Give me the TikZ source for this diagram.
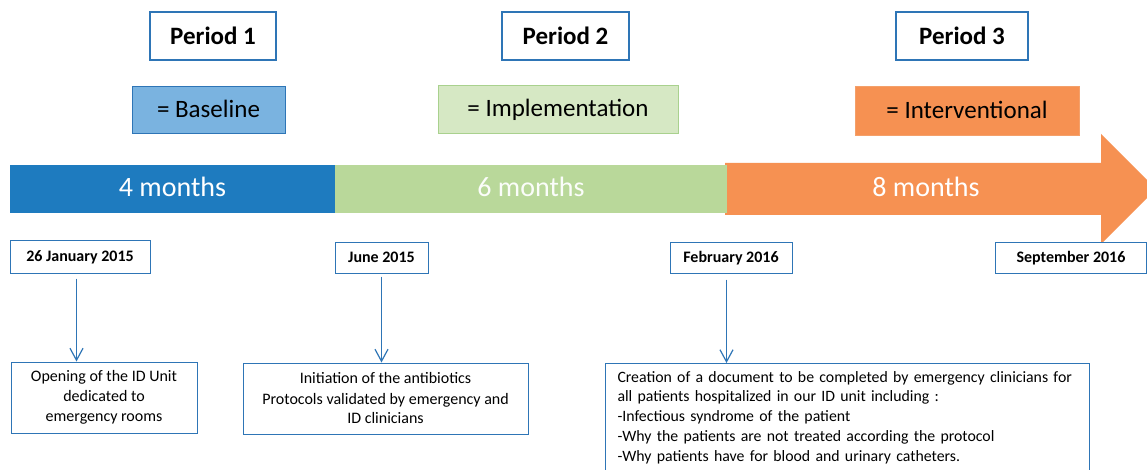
\documentclass[tikz,border=0pt]{standalone}
\usepackage{fontspec}
\setmainfont{Carlito}
\usetikzlibrary{arrows.meta,calc}
\definecolor{lineblue}{HTML}{2E75B6}
\definecolor{barblue}{HTML}{1E7BBF}
\definecolor{lightblue}{HTML}{7AB3E0}
\definecolor{bargreen}{HTML}{B9D89A}
\definecolor{lightgreen}{HTML}{D6E8C4}
\definecolor{greenline}{HTML}{A9D18E}
\definecolor{orange}{HTML}{F69152}
\definecolor{orangeline}{HTML}{F4A06A}
\tikzset{
  period/.style={draw=lineblue,line width=1.1pt,fill=white,inner sep=0pt,
    text height=17pt,text depth=0pt,font=\fontsize{25}{30}\selectfont\bfseries},
  phase/.style={inner sep=0pt,line width=1pt,text height=17pt,text depth=3pt,
    font=\fontsize{25}{30}\selectfont},
  barseg/.style={inner sep=0pt,text=white,text height=19pt,text depth=3pt,
    font=\fontsize{28}{32}\selectfont},
  datebox/.style={draw=lineblue,line width=1pt,fill=white,inner sep=0pt,
    text height=11pt,text depth=1pt,font=\fontsize{16}{20}\selectfont\bfseries},
  descbox/.style={draw=lineblue,line width=1pt,fill=white,inner sep=0pt,align=center,
    font=\fontsize{16}{20}\selectfont},
  arr/.style={draw=lineblue,line width=1.2pt,-{Straight Barb[length=12pt,width=13pt,line width=1.2pt]}}
}
\begin{document}
\begin{tikzpicture}[x=1pt,y=-1pt]
\useasboundingbox[fill=white] (0,0) rectangle (1147,470);
% period titles
\node[period,minimum width=126pt,minimum height=48pt] (p1) at (213,36) {Period 1};
\node[period,minimum width=127pt,minimum height=48pt] (p2) at (565.5,36) {Period 2};
\node[period,minimum width=132pt,minimum height=48pt] (p3) at (962,36) {Period 3};
% phase names
\node[phase,draw=lineblue,fill=lightblue,minimum width=153pt,minimum height=47pt] (ph1) at (208.5,110.5) {= Baseline};
\node[phase,draw=greenline,fill=lightgreen,minimum width=240pt,minimum height=48pt] (ph2) at (558,110) {= Implementation};
\node[phase,draw=orangeline,fill=orange,minimum width=224pt,minimum height=49pt] (ph3) at (967,111.5) {= Interventional};
% timeline bar
\fill[orange] (725,163) -- (1101,163) -- (1101,134) -- (1156,189) -- (1101,244) -- (1101,215) -- (725,215) -- cycle;
\node[barseg,fill=barblue,minimum width=325pt,minimum height=48pt] (b1) at (172.5,189) {4 months};
\node[barseg,fill=bargreen,minimum width=392pt,minimum height=48pt,text=white!95!bargreen] (b2) at (531,189) {6 months};
\node[barseg] (b3) at (926,189) {8 months};
% dates
\node[datebox,minimum width=140pt,minimum height=33pt] (d1) at (80,256.5) {26 January 2015};
\node[datebox,minimum width=93pt,minimum height=31pt] (d2) at (381.5,257.5) {June 2015};
\node[datebox,minimum width=122pt,minimum height=31pt] (d3) at (731,257.5) {February 2016};
\node[datebox,minimum width=151pt,minimum height=31pt] (d4) at (1071,257.5) {September 2016};
% descriptions
\node[descbox,minimum width=186pt,minimum height=71pt] (e1) at (104,397.5) {Opening of the ID Unit\\dedicated to\\emergency rooms};
\node[descbox,minimum width=285pt,minimum height=71pt] (e2) at (385.5,398.5) {Initiation of the antibiotics\\Protocols validated by emergency and\\ID clinicians};
\node[descbox,anchor=north west,align=left,font=\fontsize{15.8}{19.7}\selectfont,
  text width=460pt,inner xsep=12pt,inner ysep=5pt] (e3) at (605,363)
  {\strut Creation of a document to be completed by emergency clinicians for\\
   all patients hospitalized in our ID unit including :\\
   -Infectious syndrome of the patient\\
   -Why the patients are not treated according the protocol\\
   -Why patients have for blood and urinary catheters.\strut\\[4pt]};
% arrows
\draw[arr] ([xshift=-3.5pt,yshift=-5pt]d1.south) -- ([xshift=-3.5pt]d1.south |- e1.north);
\draw[arr] ([yshift=-3pt]d2.south) -- (d2.south |- e2.north);
\draw[arr] ([xshift=-4.5pt,yshift=-6pt]d3.south) -- ([xshift=-4.5pt]d3.south |- e3.north);
\end{tikzpicture}
\end{document}
